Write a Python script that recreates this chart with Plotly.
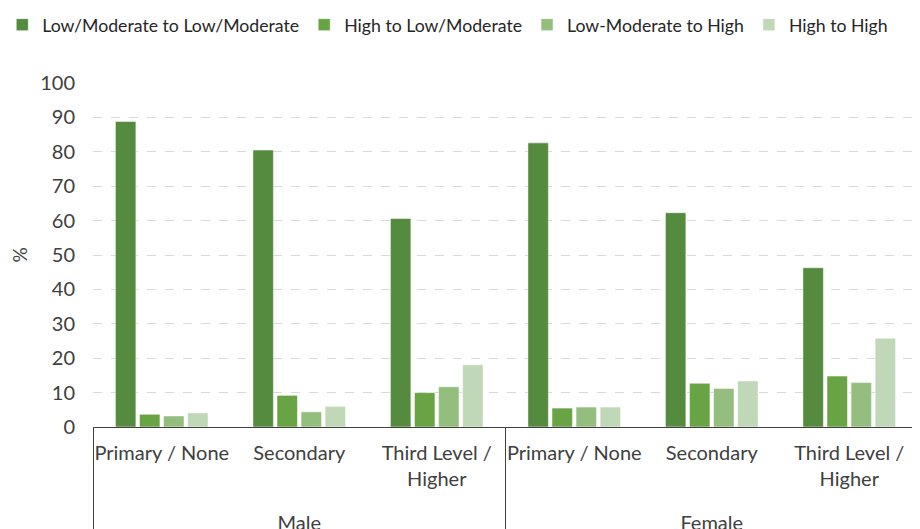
import plotly.graph_objects as go

groups = ["Male"] * 3 + ["Female"] * 3
education = ["Primary / None", "Secondary", "Third Level /<br>Higher<br>\u00a0"] * 2

series_names = [
    "Low/Moderate to Low/Moderate",
    "High to Low/Moderate",
    "Low-Moderate to High",
    "High to High",
]
low_low = [88.8, 80.5, 60.6, 82.6, 62.3, 46.3]
high_low = [3.7, 9.2, 10.0, 5.5, 12.7, 14.8]
lowmod_high = [3.2, 4.4, 11.7, 5.8, 11.2, 12.9]
high_high = [4.1, 6.0, 18.1, 5.8, 13.4, 25.8]
values = [low_low, high_low, lowmod_high, high_high]
colors = ["#548B3E", "#68A444", "#93BE7D", "#C0D8B7"]

font_family = "Lato, 'Open Sans', sans-serif"
text_color = "#404040"

fig = go.Figure()
for name, vals, col in zip(series_names, values, colors):
    fig.add_trace(go.Bar(
        x=[groups, education],
        y=vals,
        name=name,
        marker=dict(color=col, line=dict(color="rgba(255,255,255,0.5)", width=1)),
    ))

fig.update_layout(
    width=912,
    height=521,
    barmode="group",
    bargap=0.3,
    bargroupgap=0.15,
    plot_bgcolor="white",
    paper_bgcolor="white",
    margin=dict(l=85, r=2, t=75, b=102, autoexpand=False),
    font=dict(family=font_family, size=18, color=text_color),
    legend=dict(
        orientation="h",
        x=-0.11, y=1.222, xanchor="left", yanchor="top",
        font=dict(size=17.7, color="#262626"),
        itemwidth=30,
        tracegroupgap=0,
    ),
    showlegend=True,
)

fig.update_yaxes(
    range=[0, 100],
    dtick=10,
    showgrid=True,
    gridcolor="#D9D9D9",
    griddash="dash",
    gridwidth=1,
    zeroline=False,
    showline=False,
    ticks="",
    ticklabelstandoff=17,
    tickfont=dict(size=20, color=text_color),
    title=dict(text="%", font=dict(size=19, color=text_color), standoff=20),
)
fig.update_xaxes(
    showline=True,
    linecolor="#404040",
    linewidth=1.2,
    showdividers=True,
    dividercolor="#404040",
    dividerwidth=1.2,
    ticks="",
    tickangle=0,
    ticklabelstandoff=8,
    tickfont=dict(size=20, color=text_color),
)

fig.write_html("out.html")
